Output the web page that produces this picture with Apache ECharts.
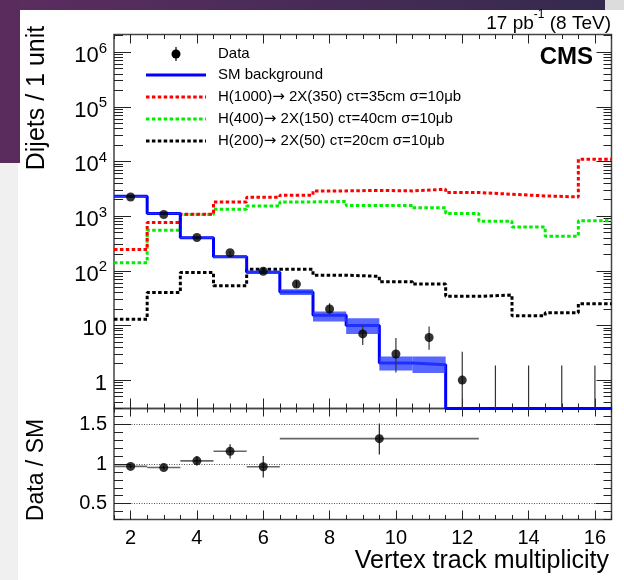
<!DOCTYPE html>
<html><head><meta charset="utf-8">
<script src="https://cdn.jsdelivr.net/npm/echarts@6/dist/echarts.min.js"></script>
<style>html,body{margin:0;padding:0;background:#fff}#c{width:624px;height:580px}</style>
</head><body><div id="c"></div>
<script>
// ---------------- data ----------------
const bins = [2,3,4,5,6,7,8,9,10,11,12,13,14,15,16];
const smBkg    = [2310,1115,400,180,94,41,15.4,10,2.05,1.9,0,0,0,0,0];
const smBandLo = [2240,1080,384,171,88,36,11.8,7,1.5,1.35,0,0,0,0,0];
const smBandHi = [2380,1150,416,189,100,46,18,13.5,2.7,2.7,0,0,0,0,0];
const dataVal  = [2240,1070,406,213,98,57,20,7,3,6,1,0,0,0,0];
const dataLo   = [2193,1037,386,198,88,49.5,15.6,4.4,1.37,3.6,0.17,0,0,0,0];
const dataHi   = [2287,1103,426,228,108,65.6,25.5,10,5.9,9.6,3.3,1.84,1.84,1.84,1.84];
const sigH1000 = [245,764,1083,1820,2215,2410,2890,2950,2890,3100,2700,2510,2340,2240,11000];
const sigH400  = [140,552,1070,1335,1537,1820,1850,1560,1560,1415,1115,807,635,430,818];
const sigH200  = [13,40,93,53,106,106,83,79,63,57,34,36,15,17,25];

const ratioX    = [2,3,4,5,6,9.5];
const ratioXLo  = [1.5,2.5,3.5,4.5,5.5,6.5];
const ratioXHi  = [2.5,3.5,4.5,5.5,6.5,12.5];
const ratioVal  = [0.97,0.955,1.04,1.16,0.965,1.32];
const ratioLo   = [0.95,0.93,0.98,1.07,0.83,1.12];
const ratioHi   = [0.99,0.98,1.10,1.25,1.10,1.51];

const xTickLabels = [2,4,6,8,10,12,14,16];
const yTickLabels = [1,10,100,1000,10000,100000,1000000];
const ratioTickLabels = [0.5,1,1.5];
const legendLabels = ['Data','SM background',
  'H(1000)\u2192 2X(350) c\u03c4=35cm \u03c3=10\u03bcb',
  'H(400)\u2192 2X(150) c\u03c4=40cm \u03c3=10\u03bcb',
  'H(200)\u2192 2X(50) c\u03c4=20cm \u03c3=10\u03bcb'];

// ---------------- axis ranges & styles ----------------
const X_MIN = 1.5, X_MAX = 16.5;
const Y_MIN = 0.302, Y_MAX = 2.1e6;
const R_MIN = 0.3, R_MAX = 1.7;
const FONT = "'Liberation Sans', Arial, Helvetica, sans-serif";
const DASH = [3.5, 2.4];

function stepRange(a, b, s) { const out = []; for (let v = a; v <= b + 1e-9; v += s) out.push(Math.round(v * 1000) / 1000); return out; }
const xMinor = stepRange(X_MIN, X_MAX, 0.5);
const yMinor = [];
for (let k = -1; k <= 6; k++) for (let m = 2; m <= 9; m++) { const v = m * Math.pow(10, k); if (v > Y_MIN && v < Y_MAX) yMinor.push(v); }
const rMinor = stepRange(R_MIN, R_MAX, 0.1);

function mkX(grid, pos, ticks, len, labels) {
  return {type:'value', gridIndex:grid, position:pos, min:X_MIN, max:X_MAX,
    axisLine:{show:false, onZero:false},
    axisTick:{show:true, inside:true, length:len, customValues:ticks, lineStyle:{color:'#222', width:1}},
    axisLabel: labels ? {show:true, customValues:labels, margin:9, fontSize:20, color:'#000', fontFamily:FONT} : {show:false},
    splitLine:{show:false}};
}
function supLabel(v) {
  const e = Math.round(Math.log10(v));
  if (e === 0) return '{b|1}';
  if (e === 1) return '{b|10}';
  return '{b|10}{s|' + e + '}';
}
function mkYlog(pos, ticks, len, labels) {
  return {type:'log', logBase:10, gridIndex:0, position:pos, min:Y_MIN, max:Y_MAX,
    axisLine:{show:false, onZero:false},
    axisTick:{show:true, inside:true, length:len, customValues:ticks, lineStyle:{color:'#222', width:1}},
    axisLabel: labels ? {show:true, customValues:labels, margin:7, formatter:supLabel,
      padding:[4,0,0,0],
      rich:{b:{fontSize:22, lineHeight:26, verticalAlign:'bottom', color:'#000', fontFamily:FONT},
            s:{fontSize:15, lineHeight:16, verticalAlign:'top', color:'#000', fontFamily:FONT}}} : {show:false},
    splitLine:{show:false}};
}
function mkYr(pos, ticks, len, labels, split) {
  return {type:'value', gridIndex:1, position:pos, min:R_MIN, max:R_MAX,
    axisLine:{show:false, onZero:false},
    axisTick:{show:true, inside:true, length:len, customValues:ticks, lineStyle:{color:'#222', width:1}},
    axisLabel: labels ? {show:true, customValues:labels, margin:7, fontSize:20, color:'#000', fontFamily:FONT} : {show:false},
    splitLine: split ? {show:true, lineStyle:{color:'#555', width:1, type:[1,1.5]}} : {show:false}};
}

// histogram as step points built from bin centres (width 1)
function steps(vals) {
  const pts = [];
  bins.forEach((b, i) => { const v = Math.max(vals[i], Y_MIN); pts.push([b - 0.5, v], [b + 0.5, v]); });
  return pts;
}
function lineSeries(vals, color, width, dash, z) {
  return {type:'line', xAxisIndex:0, yAxisIndex:0, data:steps(vals), showSymbol:false, symbol:'none',
    lineStyle:{color:color, width:width, type:dash || 'solid'}, clip:true, z:z, animation:false, silent:true};
}
// legend text: put the arrow in a font with a full-size arrow glyph
function legendRich(s) {
  const parts = s.split('\u2192');
  if (parts.length < 2) return '{t|' + s + '}';
  return '{t|' + parts[0] + '}{r|\u2192}{t|' + parts[1] + '}';
}
const legendRichStyle = {t:{fontSize:15, fontFamily:FONT, fill:'#000'},
  r:{fontSize:15, fontFamily:"'DejaVu Sans', sans-serif", fill:'#000'}};

const bandData = bins.map((b, i) => [b, smBandLo[i], smBandHi[i]]).filter(d => d[1] > 0);
const errData = bins.map((b, i) => [b, dataLo[i], dataHi[i]]);
const ptData = bins.map((b, i) => [b, dataVal[i]]).filter(d => d[1] > 0);
const rErrData = ratioX.map((x, i) => [x, ratioLo[i], ratioHi[i], ratioXLo[i], ratioXHi[i]]);
const rPtData = ratioX.map((x, i) => [x, ratioVal[i]]);

const legendRows = [54, 75, 97, 119, 141];
const legendGraphics = legendLabels.map((s, i) => ({type:'text', x:218, y:legendRows[i],
  style:{text:legendRich(s), rich:legendRichStyle, verticalAlign:'middle'}}));

const option = {
  animation:false,
  backgroundColor:'#fff',
  grid:[
    {left:114, top:34.5, width:497.5, height:374, show:true, borderColor:'#444', borderWidth:1.5, backgroundColor:'transparent', outerBoundsMode:'none'},
    {left:114, top:408.5, width:497.5, height:111, show:true, borderColor:'#444', borderWidth:1.5, backgroundColor:'transparent', outerBoundsMode:'none'}
  ],
  xAxis:[
    mkX(0,'bottom',xTickLabels,10,null), mkX(0,'bottom',xMinor,5,null),
    mkX(0,'top',xTickLabels,9,null), mkX(0,'top',xMinor,4.5,null),
    mkX(1,'bottom',xTickLabels,9,xTickLabels), mkX(1,'bottom',xMinor,4.5,null),
    mkX(1,'top',xTickLabels,8,null), mkX(1,'top',xMinor,4,null)
  ],
  yAxis:[
    mkYlog('left',yTickLabels,17,yTickLabels), mkYlog('left',yMinor,9,null),
    mkYlog('right',yTickLabels,15,null), mkYlog('right',yMinor,8,null),
    mkYr('left',ratioTickLabels,17,ratioTickLabels,true), mkYr('left',rMinor,9,null,false),
    mkYr('right',ratioTickLabels,16,null,false), mkYr('right',rMinor,8,null,false)
  ],
  series:[
    lineSeries(sigH200,'#000000',3,DASH,3),
    lineSeries(sigH400,'#00ee00',3,DASH,3),
    lineSeries(sigH1000,'#ff0000',3,DASH,3),
    lineSeries(smBkg,'#0000ff',3,null,4),
    {type:'custom', xAxisIndex:0, yAxisIndex:0, data:bandData, clip:true, z:5, silent:true,
      encode:{x:0, y:[1,2]},
      renderItem:function(params, api){
        const x = api.value(0), lo = api.value(1), hi = api.value(2);
        const p1 = api.coord([x - 0.5, hi]), p2 = api.coord([x + 0.5, lo]);
        return {type:'rect', shape:{x:p1[0], y:p1[1], width:p2[0]-p1[0], height:p2[1]-p1[1]},
          style:{fill:'rgba(40,60,255,0.78)'}};
      }},
    {type:'custom', xAxisIndex:0, yAxisIndex:0, data:errData, clip:true, z:6, silent:true,
      encode:{x:0, y:[1,2]},
      renderItem:function(params, api){
        const x = api.value(0);
        const lo = Math.max(api.value(1), Y_MIN), hi = Math.min(api.value(2), Y_MAX);
        const a = api.coord([x, lo]), b = api.coord([x, hi]);
        return {type:'line', shape:{x1:a[0], y1:a[1], x2:b[0], y2:b[1]}, style:{stroke:'#333', lineWidth:1.2}};
      }},
    {type:'scatter', xAxisIndex:0, yAxisIndex:0, data:ptData, symbol:'circle', symbolSize:9,
      itemStyle:{color:'#000'}, z:7, silent:true},
    {type:'custom', xAxisIndex:4, yAxisIndex:4, data:rErrData, clip:true, z:6, silent:true,
      encode:{x:[0,3,4], y:[1,2]},
      renderItem:function(params, api){
        const x = api.value(0), lo = api.value(1), hi = api.value(2), xl = api.value(3), xh = api.value(4);
        const y = ratioVal[params.dataIndex];
        const a = api.coord([x, lo]), b = api.coord([x, hi]);
        const c = api.coord([xl, y]), d = api.coord([xh, y]);
        return {type:'group', children:[
          {type:'line', shape:{x1:c[0], y1:c[1], x2:d[0], y2:d[1]}, style:{stroke:'#666', lineWidth:1.6}},
          {type:'line', shape:{x1:a[0], y1:a[1], x2:b[0], y2:b[1]}, style:{stroke:'#222', lineWidth:1.2}}
        ]};
      }},
    {type:'scatter', xAxisIndex:4, yAxisIndex:4, data:rPtData, symbol:'circle', symbolSize:9,
      itemStyle:{color:'#000'}, z:7, silent:true}
  ],
  graphic:[
    // slide background remnants
    {type:'rect', z:-10, shape:{x:0, y:0, width:605, height:10},
      style:{fill:new echarts.graphic.LinearGradient(0,0,1,0,[{offset:0,color:'#5c2d60'},{offset:1,color:'#352a4e'}])}},
    {type:'rect', z:-10, shape:{x:605, y:0, width:19, height:10}, style:{fill:'#dcdcdc'}},
    {type:'rect', z:-10, shape:{x:0, y:0, width:20, height:163}, style:{fill:'#5a2c5e'}},
    {type:'rect', z:-10, shape:{x:0, y:163, width:18, height:417}, style:{fill:'#f0f0f0'}},
    // legend markers
    {type:'line', shape:{x1:176, y1:47, x2:176, y2:61}, style:{stroke:'#000', lineWidth:1.2}},
    {type:'circle', shape:{cx:176, cy:54, r:4.5}, style:{fill:'#000'}},
    {type:'line', shape:{x1:146, y1:75, x2:206, y2:75}, style:{stroke:'#0000ff', lineWidth:3}},
    {type:'line', shape:{x1:146, y1:97, x2:206, y2:97}, style:{stroke:'#ff0000', lineWidth:3, lineDash:DASH}},
    {type:'line', shape:{x1:146, y1:119, x2:206, y2:119}, style:{stroke:'#00ee00', lineWidth:3, lineDash:DASH}},
    {type:'line', shape:{x1:146, y1:141, x2:206, y2:141}, style:{stroke:'#000', lineWidth:3, lineDash:DASH}},
    ...legendGraphics,
    // CMS label and lumi
    {type:'text', x:593, y:57, style:{text:'CMS', fontSize:24, fontWeight:'bold', fontFamily:FONT, fill:'#000', align:'right', verticalAlign:'middle'}},
    {type:'text', x:611, y:21, style:{text:'{a|17 pb}{s|-1}{a| (8 TeV)}', align:'right', verticalAlign:'middle',
      rich:{a:{fontSize:19, lineHeight:24, verticalAlign:'bottom', fontFamily:FONT, fill:'#000'},
            s:{fontSize:12, lineHeight:15, verticalAlign:'top', fontFamily:FONT, fill:'#000'}}}},
    // axis titles
    {type:'text', x:609, y:561, style:{text:'Vertex track multiplicity', fontSize:25, fontFamily:FONT, fill:'#000', align:'right', verticalAlign:'middle'}},
    {type:'text', x:37, y:98, rotation:Math.PI/2, style:{text:'Dijets / 1 unit', fontSize:25, fontFamily:FONT, fill:'#000', align:'center', verticalAlign:'middle'}},
    {type:'text', x:37, y:470, rotation:Math.PI/2, style:{text:'Data / SM', fontSize:23, fontFamily:FONT, fill:'#000', align:'center', verticalAlign:'middle'}}
  ]
};
const chart = echarts.init(document.getElementById('c'), null, {renderer:'canvas', width:624, height:580});
chart.setOption(option);
</script>
</body></html>
